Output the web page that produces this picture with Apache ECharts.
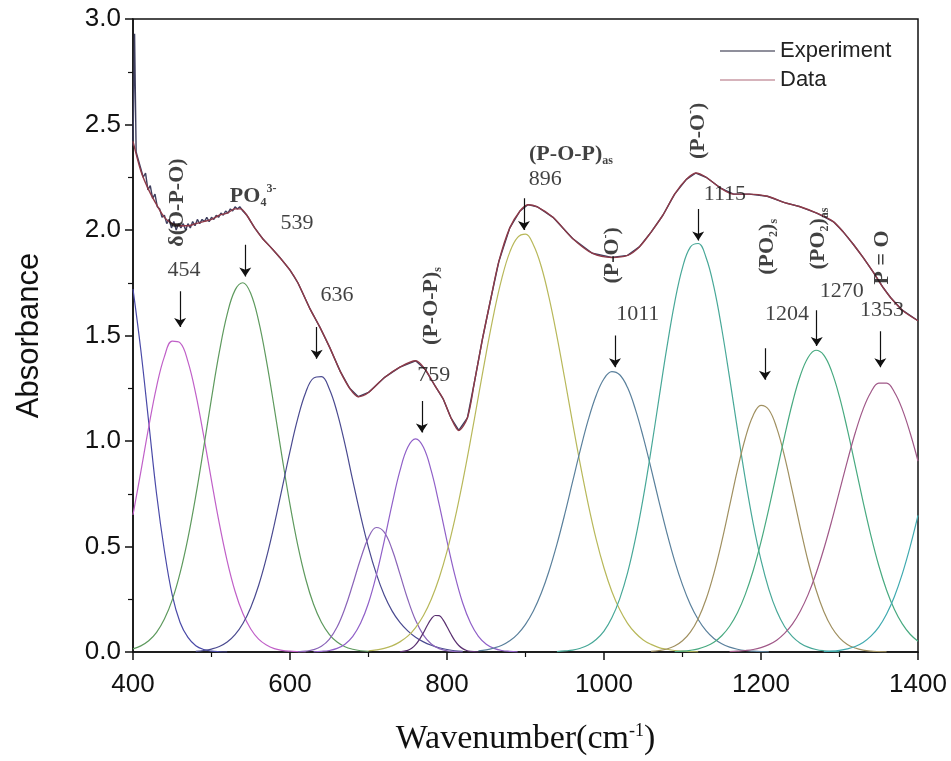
<!DOCTYPE html>
<html><head><meta charset="utf-8">
<script src="https://cdn.jsdelivr.net/npm/echarts@6/dist/echarts.min.js"></script>
<style>html,body{margin:0;padding:0;background:#fff}#c{width:951px;height:761px}</style>
</head><body><div id="c"></div><script>
// ---- measured spectrum (Experiment, noisy) ----
const expCurve = [[400,2.40],[402,2.93],[404,2.37],[407,2.33],[410,2.29],[413,2.25],[416,2.27],[419,2.19],[422,2.21],[425,2.15],[428,2.17],[431,2.11],[434,2.10],[437,2.06],[440,2.07],[443,2.03],[446,2.05],[449,2.01],[452,2.04],[455,2.00],[458,2.03],[461,2.01],[464,2.03],[467,2.00],[470,2.03],[473,2.01],[476,2.04],[479,2.02],[482,2.05],[485,2.03],[488,2.05],[491,2.04],[494,2.06],[497,2.04],[500,2.06],[503,2.05],[506,2.07],[509,2.06],[512,2.08],[515,2.07],[518,2.09],[521,2.08],[524,2.10],[527,2.09],[530,2.11],[533,2.10],[536,2.11],[540,2.09],[545,2.07],[550,2.04],[555,2.01],[565,1.96],[575,1.92],[587,1.87],[600,1.81],[610,1.75],[625,1.63],[638,1.54],[651,1.44],[664,1.33],[676,1.25],[687,1.21],[700,1.23],[720,1.30],[740,1.35],[760,1.38],[772,1.34],[785,1.26],[795,1.20],[805,1.11],[815,1.05],[826,1.11],[835,1.28],[845,1.48],[855,1.66],[866,1.85],[880,2.01],[893,2.09],[903,2.12],[915,2.11],[935,2.06],[960,1.96],[985,1.89],[1010,1.87],[1030,1.88],[1045,1.92],[1060,1.99],[1075,2.07],[1090,2.17],[1105,2.24],[1117,2.27],[1130,2.25],[1148,2.20],[1165,2.17],[1185,2.17],[1208,2.16],[1230,2.13],[1250,2.11],[1271,2.08],[1292,2.04],[1305,1.99],[1318,1.93],[1330,1.87],[1343,1.80],[1355,1.73],[1365,1.68],[1380,1.62],[1400,1.57]];
// ---- fitted total (Data) ----
const dataCurve = [[400,2.42],[410,2.28],[420,2.19],[430,2.12],[440,2.06],[450,2.03],[460,2.02],[470,2.02],[480,2.03],[490,2.04],[500,2.05],[510,2.07],[520,2.08],[530,2.10],[537,2.10],[545,2.07],[555,2.01],[565,1.96],[575,1.92],[587,1.87],[600,1.81],[610,1.75],[625,1.63],[638,1.54],[651,1.44],[664,1.33],[676,1.25],[687,1.21],[700,1.23],[720,1.30],[740,1.35],[760,1.38],[772,1.34],[785,1.26],[795,1.20],[805,1.11],[815,1.05],[826,1.11],[835,1.28],[845,1.48],[855,1.66],[866,1.85],[880,2.01],[893,2.09],[903,2.12],[915,2.11],[935,2.06],[960,1.96],[985,1.89],[1010,1.87],[1030,1.88],[1045,1.92],[1060,1.99],[1075,2.07],[1090,2.17],[1105,2.24],[1117,2.27],[1130,2.25],[1148,2.20],[1165,2.17],[1185,2.17],[1208,2.16],[1230,2.13],[1250,2.11],[1271,2.08],[1292,2.04],[1305,1.99],[1318,1.93],[1330,1.87],[1343,1.80],[1355,1.73],[1365,1.68],[1380,1.62],[1400,1.57]];
// ---- deconvoluted component bands ----
const comp385 = [[400,1.72],[410,1.43],[420,1.09],[430,0.75],[440,0.48],[450,0.27],[460,0.14],[470,0.069],[480,0.030],[490,0.012],[500,0.004],[510,0.001],[520,0]];
const comp454 = [[400,0.65],[410,0.855],[420,1.066],[430,1.257],[440,1.40],[450,1.473],[460,1.465],[470,1.376],[480,1.222],[490,1.025],[500,0.812],[510,0.608],[520,0.431],[530,0.288],[540,0.182],[550,0.109],[560,0.061],[570,0.033],[580,0.016],[590,0.008],[600,0.004],[610,0.002],[620,0.001]];
const comp539 = [[400,0.015],[410,0.029],[420,0.053],[430,0.093],[440,0.156],[450,0.247],[460,0.375],[470,0.540],[480,0.741],[490,0.967],[500,1.202],[510,1.422],[520,1.601],[530,1.715],[540,1.75],[550,1.699],[560,1.569],[570,1.380],[580,1.156],[590,0.921],[600,0.698],[610,0.504],[620,0.346],[630,0.226],[640,0.141],[650,0.084],[660,0.047],[670,0.025],[680,0.013],[690,0.006],[700,0.003]];
const comp636 = [[480,0.003],[490,0.007],[500,0.014],[510,0.026],[520,0.047],[530,0.082],[540,0.135],[550,0.211],[560,0.315],[570,0.447],[580,0.604],[590,0.777],[600,0.951],[610,1.108],[620,1.230],[630,1.298],[640,1.305],[650,1.248],[660,1.136],[670,0.985],[680,0.812],[690,0.645],[700,0.495],[710,0.37],[720,0.27],[730,0.195],[740,0.14],[750,0.10],[760,0.07],[770,0.048],[780,0.032],[790,0.02],[800,0.012],[810,0.006],[820,0.003]];
const comp712 = [[610,0.001],[620,0.004],[630,0.011],[640,0.027],[650,0.060],[660,0.118],[670,0.207],[680,0.321],[690,0.442],[700,0.542],[710,0.59],[720,0.568],[730,0.487],[740,0.370],[750,0.250],[760,0.150],[770,0.080],[780,0.038],[790,0.016],[800,0.006],[810,0.002],[820,0]];
const comp760 = [[630,0.001],[640,0.003],[650,0.007],[660,0.017],[670,0.037],[680,0.074],[690,0.137],[700,0.232],[710,0.364],[720,0.526],[730,0.700],[740,0.858],[750,0.970],[760,1.01],[770,0.970],[780,0.858],[790,0.700],[800,0.526],[810,0.364],[820,0.232],[830,0.137],[840,0.074],[850,0.037],[860,0.017],[870,0.007],[880,0.003],[890,0.001]];
const comp787 = [[740,0.001],[750,0.008],[755,0.018],[760,0.035],[765,0.060],[770,0.092],[775,0.127],[780,0.157],[785,0.173],[790,0.172],[795,0.152],[800,0.120],[805,0.085],[810,0.054],[815,0.031],[820,0.016],[825,0.007],[830,0.003],[840,0]];
const comp897 = [[700,0.006],[710,0.010],[720,0.017],[730,0.029],[740,0.048],[750,0.075],[760,0.116],[770,0.173],[780,0.250],[790,0.351],[800,0.477],[810,0.630],[820,0.808],[830,1.004],[840,1.211],[850,1.418],[860,1.610],[870,1.773],[880,1.895],[890,1.965],[900,1.98],[910,1.930],[920,1.828],[930,1.679],[940,1.497],[950,1.295],[960,1.086],[970,0.884],[980,0.699],[990,0.535],[1000,0.398],[1010,0.287],[1020,0.201],[1030,0.136],[1040,0.090],[1050,0.057],[1060,0.036],[1070,0.021],[1080,0.013],[1090,0.007],[1100,0.004],[1110,0.002],[1120,0.001]];
const comp1012 = [[840,0.006],[850,0.010],[860,0.019],[870,0.032],[880,0.053],[890,0.085],[900,0.131],[910,0.194],[920,0.278],[930,0.384],[940,0.510],[950,0.653],[960,0.807],[970,0.960],[980,1.101],[990,1.216],[1000,1.295],[1010,1.329],[1020,1.314],[1030,1.253],[1040,1.150],[1050,1.018],[1060,0.869],[1070,0.714],[1080,0.566],[1090,0.432],[1100,0.318],[1110,0.225],[1120,0.154],[1130,0.101],[1140,0.064],[1150,0.039],[1160,0.023],[1170,0.013],[1180,0.007],[1190,0.004],[1200,0.002],[1210,0.001]];
const comp1117 = [[940,0.002],[950,0.005],[960,0.009],[970,0.018],[980,0.033],[990,0.059],[1000,0.099],[1010,0.162],[1020,0.252],[1030,0.375],[1040,0.536],[1050,0.732],[1060,0.958],[1070,1.201],[1080,1.441],[1090,1.656],[1100,1.822],[1110,1.919],[1120,1.936],[1130,1.870],[1140,1.730],[1150,1.532],[1160,1.299],[1170,1.055],[1180,0.820],[1190,0.610],[1200,0.435],[1210,0.297],[1220,0.194],[1230,0.121],[1240,0.073],[1250,0.042],[1260,0.023],[1270,0.012],[1280,0.006],[1290,0.003],[1300,0.001]];
const comp1202 = [[1060,0.003],[1070,0.007],[1080,0.014],[1090,0.028],[1100,0.053],[1110,0.094],[1120,0.158],[1130,0.250],[1140,0.373],[1150,0.523],[1160,0.692],[1170,0.863],[1180,1.013],[1190,1.121],[1200,1.169],[1210,1.148],[1220,1.062],[1230,0.927],[1240,0.761],[1250,0.590],[1260,0.430],[1270,0.296],[1280,0.192],[1290,0.117],[1300,0.067],[1310,0.036],[1320,0.019],[1330,0.009],[1340,0.004],[1350,0.002],[1360,0.001]];
const comp1271 = [[1090,0.002],[1100,0.004],[1110,0.008],[1120,0.015],[1130,0.027],[1140,0.046],[1150,0.077],[1160,0.122],[1170,0.186],[1180,0.273],[1190,0.385],[1200,0.522],[1210,0.680],[1220,0.850],[1230,1.022],[1240,1.180],[1250,1.309],[1260,1.396],[1270,1.430],[1280,1.407],[1290,1.330],[1300,1.209],[1310,1.055],[1320,0.885],[1330,0.713],[1340,0.552],[1350,0.410],[1360,0.293],[1370,0.201],[1380,0.133],[1390,0.084],[1400,0.051]];
const comp1355 = [[1160,0.002],[1170,0.004],[1180,0.007],[1190,0.012],[1200,0.021],[1210,0.035],[1220,0.056],[1230,0.088],[1240,0.132],[1250,0.193],[1260,0.272],[1270,0.371],[1280,0.488],[1290,0.620],[1300,0.762],[1310,0.905],[1320,1.038],[1330,1.150],[1340,1.231],[1350,1.274],[1360,1.274],[1370,1.231],[1380,1.150],[1390,1.038],[1400,0.905]];
const comp1460 = [[1280,0.002],[1290,0.004],[1300,0.008],[1310,0.015],[1320,0.026],[1330,0.045],[1340,0.075],[1350,0.118],[1360,0.180],[1370,0.263],[1380,0.370],[1390,0.499],[1400,0.647]];

// ---- peak annotations ----
const annText = ['{b|δ(O-P-O)}','454','{b|PO}{bs|4}{bp|3-}','539','636','{b|(P-O-P)}{bs|s}','759','{b|(P-O-P)}{bs|as}','896','{b|(P-O}{bp|-}{b|)}','1011','{b|(P-O}{bp|-}{b|)}','1115','{b|(PO}{bs|2}{b|)}{bs|s}','1204','{b|(PO}{bs|2}{b|)}{bs|as}','1270','{b|P = O}','1353'];
const annX = [456,465,553,609,660,780,783,958,925,1011,1043,1120,1154,1208,1233,1273,1303,1355,1354];
const annY = [2.13,1.81,2.16,2.03,1.69,1.64,1.31,2.36,2.24,1.88,1.60,2.47,2.17,1.92,1.60,1.96,1.71,1.87,1.62];
const annRot = [90,0,0,0,0,90,0,0,0,90,0,90,0,90,0,90,0,90,0];
const arrowX = [460,543,634,768,898,1014,1120,1205,1271,1352];
const arrowFrom = [1.71,1.93,1.54,1.19,2.15,1.50,2.10,1.44,1.62,1.52];
const arrowTo = [1.54,1.78,1.39,1.04,2.00,1.35,1.95,1.29,1.45,1.35];

const components = [
  [comp385,'#4a4aa8'],[comp454,'#c060c8'],[comp539,'#5e9a5e'],[comp636,'#4a4a90'],
  [comp712,'#8a64b8'],[comp760,'#9060c8'],[comp787,'#5a3070'],[comp897,'#b8b85a'],
  [comp1012,'#5a809c'],[comp1117,'#48a898'],[comp1202,'#a09060'],[comp1271,'#48aa80'],
  [comp1355,'#a05888'],[comp1460,'#40aab0']
];

const series = components.map((c,i)=>({
  type:'line', name:'c'+i, data:c[0], smooth:0.4, showSymbol:false, symbol:'none',
  lineStyle:{color:c[1], width:1.2}, itemStyle:{color:c[1]}, z:2, silent:true
}));
series.push({type:'line', name:'Experiment', data:expCurve, showSymbol:false, symbol:'none',
  lineStyle:{color:'#3e3e5e', width:1.4}, itemStyle:{color:'#6a6a7a'}, z:3});
series.push({type:'line', name:'Data', data:dataCurve, smooth:0.3, showSymbol:false, symbol:'none',
  lineStyle:{color:'#8e3a48', width:1.4}, itemStyle:{color:'#c89aa5'}, z:4});
series.push({type:'lines', coordinateSystem:'cartesian2d', z:6, silent:true,
  symbol:['none','arrow'], symbolSize:9,
  lineStyle:{color:'#111', width:1.2, opacity:1},
  data: arrowX.map((x,i)=>({coords:[[x,arrowFrom[i]],[x,arrowTo[i]]]}))});
const richSt = {
  b:{fontFamily:'Liberation Serif', fontWeight:'bold', fontSize:22, color:'#111', lineHeight:26},
  bs:{fontFamily:'Liberation Serif', fontWeight:'bold', fontSize:12, color:'#111', verticalAlign:'bottom', lineHeight:12},
  bp:{fontFamily:'Liberation Serif', fontWeight:'bold', fontSize:12, color:'#111', verticalAlign:'top', lineHeight:12}
};
series.push({type:'scatter', symbolSize:0, z:7, silent:true,
  data: annText.map((t,i)=>({value:[annX[i],annY[i]], label:{show:true, rotate:annRot[i], formatter:t}})),
  label:{show:true, position:'inside', fontFamily:'Liberation Serif', fontSize:22, color:'#111', lineHeight:26, rich:richSt}
});

const chart = echarts.init(document.getElementById('c'));
chart.setOption({
  animation:false,
  backgroundColor:'#fff',
  grid:{left:133, right:33, top:19, bottom:106, show:true, borderColor:'#111', borderWidth:1.5},
  legend:{
    data:[{name:'Experiment', icon:'rect', itemStyle:{color:'#6a6a7a'}},{name:'Data', icon:'rect', itemStyle:{color:'#c89aa5'}}],
    orient:'vertical', left:715, top:35, itemWidth:55, itemHeight:1.5, itemGap:7,
    textStyle:{fontFamily:'Liberation Sans', fontSize:22, color:'#222'}
  },
  xAxis:{type:'value', min:400, max:1400, interval:200,
    axisLine:{show:true, onZero:false, lineStyle:{color:'#111', width:1.5}},
    axisTick:{show:true, length:8, lineStyle:{color:'#111', width:1.5}},
    minorTick:{show:true, splitNumber:2, length:5, lineStyle:{color:'#111', width:1.2}},
    splitLine:{show:false},
    axisLabel:{fontFamily:'Liberation Sans', fontSize:26, color:'#111', margin:20, formatter:v=>String(v)},
    name:'Wavenumber(cm{sup|-1})', nameLocation:'middle', nameGap:70,
    nameTextStyle:{fontFamily:'Liberation Serif', fontSize:34, color:'#111',
      rich:{sup:{fontFamily:'Liberation Serif', fontSize:18, color:'#111', verticalAlign:'top', lineHeight:18}}}
  },
  yAxis:{type:'value', min:0, max:3, interval:0.5,
    axisLine:{show:true, lineStyle:{color:'#111', width:1.5}},
    axisTick:{show:true, length:8, lineStyle:{color:'#111', width:1.5}},
    minorTick:{show:true, splitNumber:2, length:5, lineStyle:{color:'#111', width:1.2}},
    splitLine:{show:false},
    axisLabel:{fontFamily:'Liberation Sans', fontSize:26, color:'#111', margin:12, formatter:v=>v.toFixed(1)},
    name:'Absorbance', nameLocation:'middle', nameGap:88,
    nameTextStyle:{fontFamily:'Liberation Sans', fontSize:31, color:'#111'}
  },
  series: series
});
</script></body></html>
